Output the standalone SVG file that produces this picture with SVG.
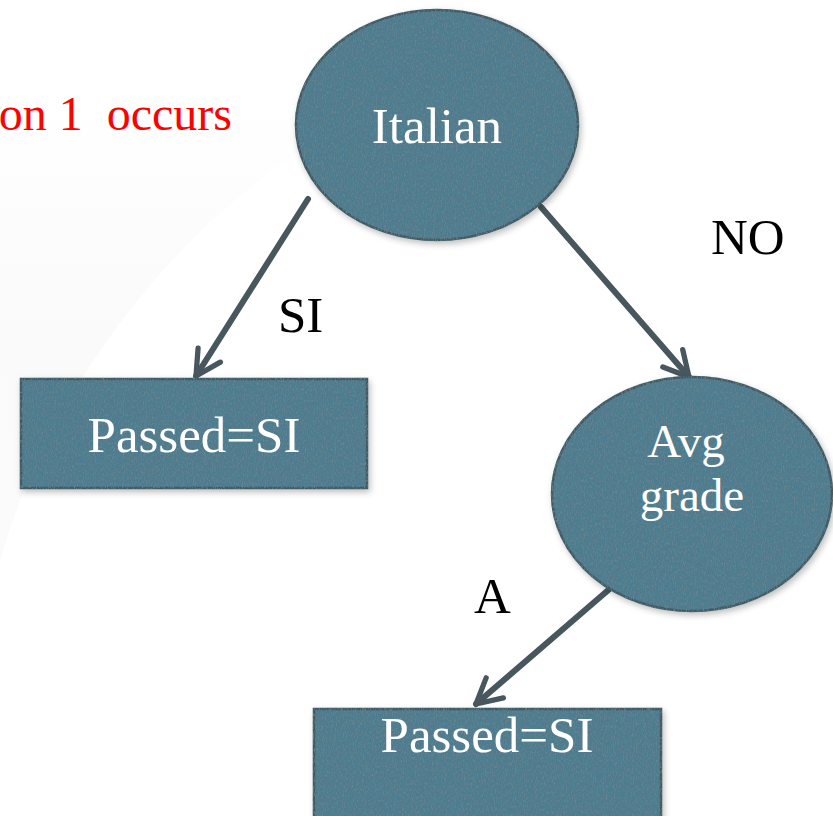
<svg xmlns="http://www.w3.org/2000/svg" width="833" height="816" viewBox="0 0 833 816">
  <defs>
    <style>
      .serif { font-family: 'Liberation Serif', 'Times New Roman', 'DejaVu Serif', serif; }
      .node { fill: #4e7b8f; stroke: #415a63; stroke-width: 2.5; filter: url(#stone); }
      .ntext { font-size: 51px; fill: #ffffff; text-anchor: middle; }
      .ntext.two { font-size: 47px; }
      .label { font-size: 51px; fill: #000000; }
      .edge { stroke: #47575d; stroke-width: 6; fill: none; stroke-linecap: round; marker-end: url(#chev); }
    </style>
    <marker id="chev" viewBox="0 0 10 10" refX="8.5" refY="5" markerWidth="5.5" markerHeight="5.5" orient="auto" markerUnits="strokeWidth">
      <path d="M1,1 L8.5,5 L1,9" fill="none" stroke="#47575d" stroke-width="1.6" stroke-linecap="round" stroke-linejoin="round"/>
    </marker>
    <linearGradient id="sweep" x1="0" y1="0" x2="0" y2="1">
      <stop offset="0" stop-color="#ffffff"/>
      <stop offset="0.5" stop-color="#fafafa"/>
      <stop offset="1" stop-color="#fbfbfb"/>
    </linearGradient>
    <!-- speckled stone texture for the node fills -->
    <filter id="stone" x="-5%" y="-5%" width="115%" height="115%">
      <feTurbulence type="fractalNoise" baseFrequency="0.9 0.35" numOctaves="3" seed="4" result="noise"/>
      <feColorMatrix in="noise" type="matrix" values="0 0 0 0 0.16  0 0 0 0 0.24  0 0 0 0 0.28  0 0 0 -2.2 1.2" result="spots"/>
      <feComposite in="spots" in2="SourceGraphic" operator="in" result="spotsIn"/>
      <feOffset in="SourceAlpha" dx="2" dy="3" result="off"/>
      <feGaussianBlur in="off" stdDeviation="3" result="blur"/>
      <feColorMatrix in="blur" type="matrix" values="0 0 0 0 0  0 0 0 0 0  0 0 0 0 0  0 0 0 0.25 0" result="shadow"/>
      <feMerge>
        <feMergeNode in="shadow"/>
        <feMergeNode in="SourceGraphic"/>
        <feMergeNode in="spotsIn"/>
      </feMerge>
    </filter>
  </defs>

  <rect width="833" height="816" fill="#ffffff"/>
  <!-- faint background sweep -->
  <path d="M0,560 C40,420 140,260 300,150 L300,100 L0,100 Z" fill="url(#sweep)"/>

  <text class="serif" x="232" y="130" font-size="48" fill="#ff0000" text-anchor="end" xml:space="preserve">on 1  occurs</text>

  <g id="connectors">
    <line class="edge" x1="308" y1="199" x2="196" y2="376"/>
    <line class="edge" x1="541" y1="207" x2="689" y2="377"/>
    <line class="edge" x1="642" y1="561" x2="476" y2="704"/>
  </g>

  <g id="labels" class="serif">
    <text class="label" x="278" y="332">SI</text>
    <text class="label" x="711" y="254">NO</text>
    <text class="label" x="474" y="613">A</text>
  </g>

  <g id="italian" class="serif">
    <ellipse class="node" cx="437" cy="125" rx="141" ry="115"/>
    <text class="ntext" x="437" y="143">Italian</text>
  </g>

  <g id="passed-si-left" class="serif">
    <rect class="node" x="21" y="379" width="346" height="109"/>
    <text class="ntext" x="194" y="452">Passed=SI</text>
  </g>

  <g id="avg-grade" class="serif">
    <ellipse class="node" cx="692" cy="494" rx="140" ry="117"/>
    <text class="ntext two" x="686" y="457">Avg</text>
    <text class="ntext two" x="692" y="511">grade</text>
  </g>

  <g id="passed-si-bottom" class="serif">
    <rect class="node" x="314" y="709" width="347" height="120"/>
    <text class="ntext" x="487" y="752">Passed=SI</text>
  </g>
</svg>
